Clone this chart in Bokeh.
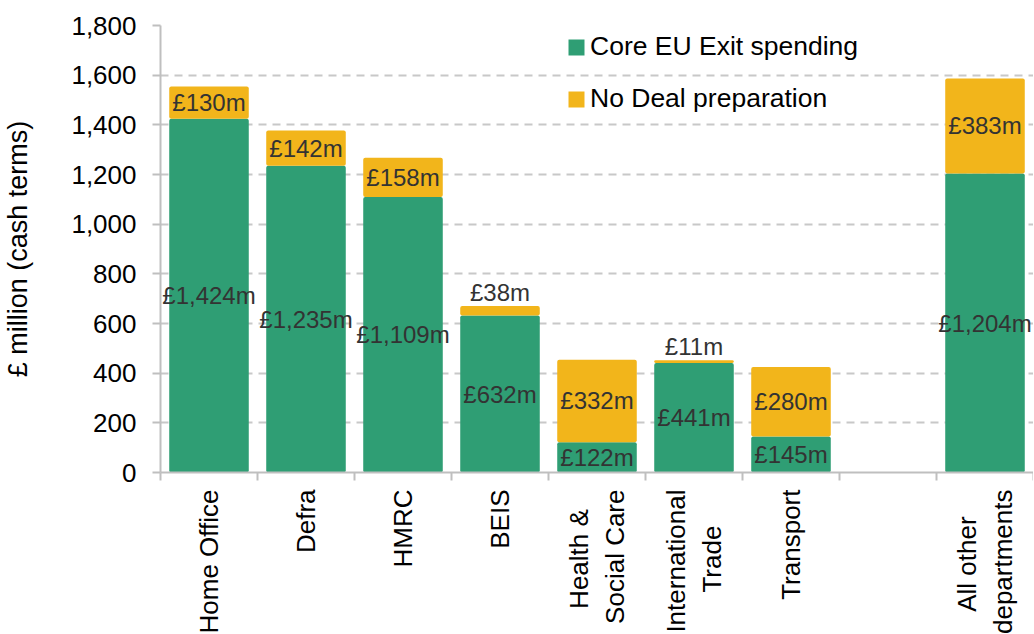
import numpy as np
from bokeh.plotting import figure
from bokeh.models import (ColumnDataSource, Range1d, FixedTicker, Legend, LegendItem,
                          NumeralTickFormatter)
from bokeh.core.properties import value
from bokeh.embed import file_html
from bokeh.resources import INLINE

# ---------------- data ----------------
NB = "\u00a0"
categories = ["Home Office", "Defra", "HMRC", "BEIS",
              "Health &" + NB * 2 + "\u2009\nSocial Care",
              "International\nTrade" + NB * 5, "Transport", "",
              "All other" + NB * 3 + "\u2009\ndepartments"]
core_spending = [1424, 1235, 1109, 632, 122, 441, 145, None, 1204]
no_deal_prep = [130, 142, 158, 38, 332, 11, 280, None, 383]
y_ticks = [0, 200, 400, 600, 800, 1000, 1200, 1400, 1600, 1800]
series_names = ["Core EU Exit spending", "No Deal preparation"]

GREEN = "#2F9E74"
YELLOW = "#F2B51B"
FONT = "Liberation Sans"
GRAY = "#BFBFBF"

idx = [i for i, c in enumerate(core_spending) if c is not None]
xc = [i + 0.5 for i in idx]
core = [core_spending[i] for i in idx]
nd = [no_deal_prep[i] for i in idx]
total = [c + n for c, n in zip(core, nd)]

src = ColumnDataSource(dict(x=xc, core=core, nd=nd, total=total,
                            zero=[0] * len(core)))

p = figure(frame_width=873, frame_height=447, x_range=Range1d(0, len(categories)),
           y_range=Range1d(0, 1800), output_backend="svg", toolbar_location=None,
           min_border_left=153, min_border_right=0, min_border_top=25,
           min_border_bottom=150)
p.outline_line_color = None
p.background_fill_color = "white"

r1 = p.vbar(x="x", bottom="zero", top="core", width=0.82, source=src,
            fill_color=GREEN, line_color=None, border_radius=2)
r2 = p.vbar(x="x", bottom="core", top="total", width=0.82, source=src,
            fill_color=YELLOW, line_color=None, border_radius=2)

# labels for core segments (centered)
lab_core = ColumnDataSource(dict(x=xc, y=[c / 2 for c in core],
                                 t=[f"£{c:,}m" for c in core]))
p.text(x="x", y="y", text="t", source=lab_core, text_align="center",
       text_baseline="middle", text_font=value(FONT), text_font_size="24px",
       text_color="#333333")

# labels for no-deal segments: centered, or above the bar if too small
in_x, in_y, in_t, out_x, out_y, out_t = [], [], [], [], [], []
for x, c, n in zip(xc, core, nd):
    if n < 60:
        out_x.append(x); out_y.append(c + n); out_t.append(f"£{n:,}m")
    else:
        in_x.append(x); in_y.append(c + n / 2); in_t.append(f"£{n:,}m")
p.text(x=in_x, y=in_y, text=in_t, text_align="center", text_baseline="middle",
       text_font=value(FONT), text_font_size="24px", text_color="#333333")
p.text(x=out_x, y=out_y, text=out_t, text_align="center",
       text_baseline="bottom", text_font=value(FONT),
       text_font_size="24px", text_color="#333333")

# grid
p.xgrid.visible = False
p.ygrid.ticker = FixedTicker(ticks=y_ticks[1:])
p.ygrid.grid_line_color = "#C8C8C8"
p.ygrid.grid_line_dash = "8 6"
p.ygrid.grid_line_width = 2

# y axis
ya = p.yaxis[0]
ya.ticker = FixedTicker(ticks=y_ticks)
ya.formatter = NumeralTickFormatter(format="0,0")
ya.axis_line_color = GRAY
ya.axis_line_width = 2
ya.major_tick_line_color = GRAY
ya.major_tick_line_width = 2
ya.major_tick_out = 8
ya.major_tick_in = 0
ya.minor_tick_line_color = None
ya.major_label_standoff = 16
ya.major_label_text_font = FONT
ya.major_label_text_font_size = "26px"
ya.major_label_text_color = "#000000"
ya.axis_label = "£ million (cash terms)"
ya.axis_label_text_font = FONT
ya.axis_label_text_font_size = "27px"
ya.axis_label_text_font_style = "normal"
ya.axis_label_text_color = "#000000"
ya.axis_label_standoff = 35

# x axis
xa = p.xaxis[0]
centers = [i + 0.5 for i in range(len(categories))]
xa.ticker = FixedTicker(ticks=centers, minor_ticks=list(range(len(categories) + 1)))
xa.major_label_overrides = {c: lab for c, lab in zip(centers, categories)}
xa.major_label_orientation = np.pi / 2
xa.axis_line_color = GRAY
xa.axis_line_width = 2
xa.major_tick_line_color = None
xa.major_tick_out = 0
xa.major_tick_in = 0
xa.minor_tick_line_color = GRAY
xa.minor_tick_line_width = 2
xa.minor_tick_out = 8
xa.minor_tick_in = 0
xa.major_label_standoff = 9
xa.major_label_text_font = FONT
xa.major_label_text_font_size = "26px"
xa.major_label_text_color = "#000000"
xa.axis_label = None
xa.axis_label_standoff = 0

legend = Legend(items=[LegendItem(label=series_names[0], renderers=[r1]),
                       LegendItem(label=series_names[1], renderers=[r2])],
                location=(406, 358), orientation="vertical")
legend.label_text_font = FONT
legend.label_text_font_size = "26.5px"
legend.label_text_color = "#000000"
legend.glyph_width = 20
legend.glyph_height = 20
legend.label_standoff = 4
legend.label_height = 30
legend.spacing = 21
legend.padding = 0
legend.margin = 0
legend.border_line_color = None
legend.background_fill_alpha = 0
p.add_layout(legend)

open("out.html", "w").write(file_html(p, INLINE))
